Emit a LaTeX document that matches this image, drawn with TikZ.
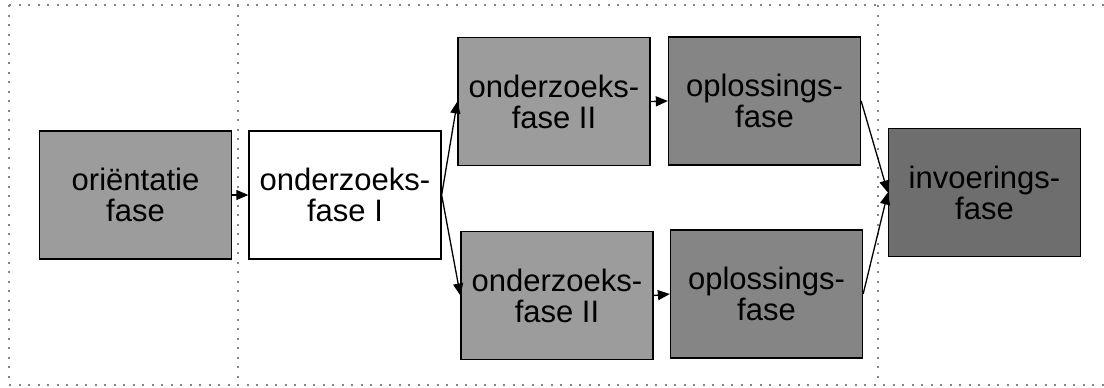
\documentclass[tikz,border=0pt]{standalone}
\usepackage{fontspec}
\setmainfont{Liberation Sans}
\usetikzlibrary{arrows.meta}
\definecolor{phaselight}{HTML}{9C9C9C}
\definecolor{phasemid}{HTML}{858585}
\definecolor{phasedark}{HTML}{6E6E6E}
\definecolor{framegray}{HTML}{858585}
\tikzset{
  phase/.style={draw=black, line width=1.3pt, minimum width=192pt, minimum height=128pt,
    inner sep=0pt, align=center, font=\fontsize{31}{31}\selectfont, text=black},
  flow/.style={draw=black, line width=1.3pt, -{Triangle[length=12pt,width=10pt]}},
  frameline/.style={draw=framegray, line width=1.8pt, dash pattern=on 2pt off 7.5pt}
}
\begin{document}
\begin{tikzpicture}[x=1pt,y=-1pt]
  \useasboundingbox (0,0) rectangle (1104,388);
  % dotted frame with the two column dividers
  \draw[frameline] (9,5) -- (1104,5);
  \draw[frameline] (9,385) -- (1104,385);
  \draw[frameline] (9,5) -- (9,385);
  \draw[frameline] (238,5) -- (238,385);
  \draw[frameline] (878,5) -- (878,385);
  % phases
  \node[phase, fill=phaselight] (ori) at (135.5,195) {oriëntatie\\fase};
  \node[phase, fill=white] (oz1) at (345,195) {onderzoeks-\\fase I};
  \node[phase, fill=phaselight] (oz2a) at (554,101.5) {onderzoeks-\\fase II};
  \node[phase, fill=phasemid] (opla) at (764.5,101) {oplossings-\\fase};
  \node[phase, fill=phaselight] (oz2b) at (557,295.5) {onderzoeks-\\fase II};
  \node[phase, fill=phasemid] (oplb) at (766.5,294) {oplossings-\\fase};
  \node[phase, fill=phasedark] (inv) at (984.5,192.5) {invoerings-\\fase};
  % connectors
  \draw[flow] (ori.east) -- (oz1.west);
  \draw[flow] (oz1.east) -- (oz2a.west);
  \draw[flow] (oz1.east) -- (oz2b.west);
  \draw[flow] (oz2a.east) -- (opla.west);
  \draw[flow] (oz2b.east) -- (oplb.west);
  \draw[flow] (opla.east) -- (inv.west);
  \draw[flow] (oplb.east) -- (inv.west);
\end{tikzpicture}
\end{document}
